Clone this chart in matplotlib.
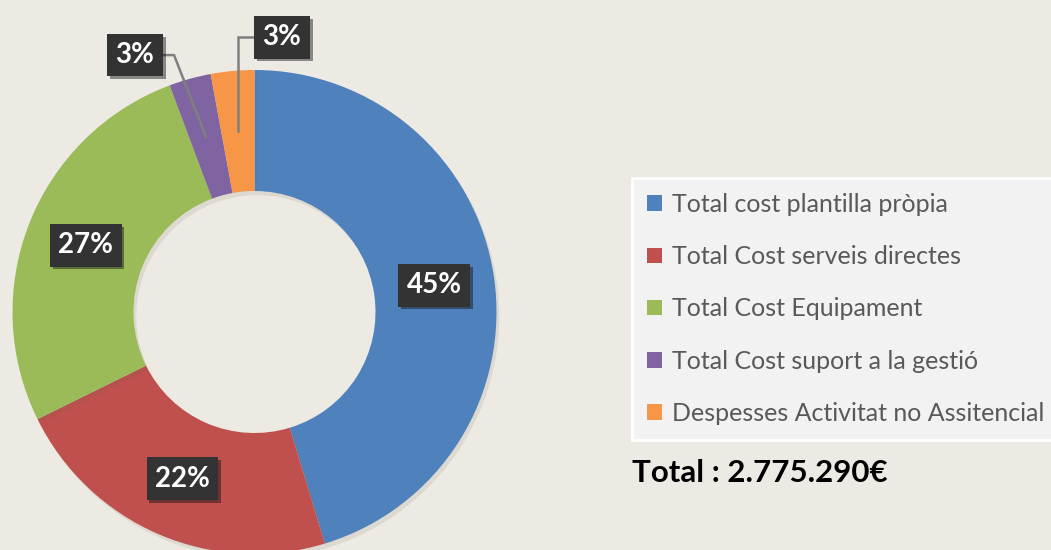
import matplotlib
matplotlib.use("Agg")
import matplotlib.pyplot as plt
import matplotlib.patheffects as pe
import numpy as np

# cost per category (EUR), total 2.775.290
categories = ["Total cost plantilla pròpia", "Total Cost serveis directes",
              "Total Cost Equipament", "Total Cost suport a la gestió",
              "Despesses Activitat no Assitencial"]
costs = [1257200, 621700, 738200, 77700, 80490]
colors = ["#4F81BD", "#C0504D", "#9BBB59", "#8064A2", "#F79646"]
total_text = "Total : 2.775.290€"

bg = "#EDEAE3"
W, H = 1051, 550

fig = plt.figure(figsize=(W / 100, H / 100), dpi=100)
fig.patch.set_facecolor(bg)
ax = fig.add_axes([0, 0, 1, 1])
ax.set_facecolor(bg)

center = (254.5, 238)
R = 242
wedges, _ = ax.pie(costs, colors=colors, startangle=90, counterclock=False,
                   center=center, radius=R,
                   wedgeprops=dict(width=R / 2, linewidth=0))

ax.set_xlim(0, W)
ax.set_ylim(0, H)
ax.set_aspect("equal")
ax.axis("off")

# labels: inside the ring for big slices, boxed with a leader line for the small ones
box_style = dict(boxstyle="square,pad=0.3", fc="#333333", ec="none")
small_offsets = {3: (-71, 82), 4: (44, 94)}  # box offset from anchor, pixels
pct = np.array(costs) / sum(costs) * 100
for i, w in enumerate(wedges):
    mid = np.deg2rad((w.theta1 + w.theta2) / 2)
    ax_x = center[0] + 0.75 * R * np.cos(mid)
    ax_y = center[1] + 0.75 * R * np.sin(mid)
    label = f"{round(pct[i])}%"
    if i in small_offsets:
        dx, dy = small_offsets[i]
        bx, by = ax_x + dx, ax_y + dy
        if dx < 0:
            edge = bx + 28
            pts = [(ax_x, ax_y), (edge + 11, by), (edge, by)]
        else:
            edge = bx - 28
            pts = [(ax_x, ax_y), (ax_x, by), (edge, by)]
        xs, ys = zip(*pts)
        ax.plot(xs, ys, color="#7F7F7F", lw=1.8, solid_joinstyle="miter")
    else:
        bx, by = ax_x, ax_y
    t = ax.text(bx, by, label, ha="center", va="center", color="white",
                fontsize=20, fontweight="bold", family="Lato", bbox=box_style)
    t.get_bbox_patch().set_path_effects([pe.SimplePatchShadow(offset=(2, -2), alpha=0.45),
                                         pe.Normal()])

leg = ax.legend(wedges, categories, loc="upper left", bbox_to_anchor=(632 / W, 1 - 178 / H),
                bbox_transform=fig.transFigure, frameon=True, fancybox=False,
                prop=dict(family="Lato", size=18), labelcolor="#595959",
                handlelength=0.58, handleheight=0.58, handletextpad=0.4,
                labelspacing=1.17, borderpad=0.6, borderaxespad=0)
frame = leg.get_frame()
frame.set_facecolor("#F2F2F2")
frame.set_edgecolor("white")
frame.set_linewidth(2)
frame.set_alpha(1)

# soft shadow around the ring, set after the legend so its squares stay flat
for w in wedges:
    w.set_path_effects([pe.SimplePatchShadow(offset=(2, -3), alpha=0.12, shadow_rgbFace="#6b6455"),
                        pe.Normal()])

fig.text(632 / W, 1 - 473 / H, total_text, ha="left", va="center",
         fontsize=22.5, fontweight="bold", family="Lato", color="black")

fig.savefig("out.png", dpi=100, facecolor=bg)
